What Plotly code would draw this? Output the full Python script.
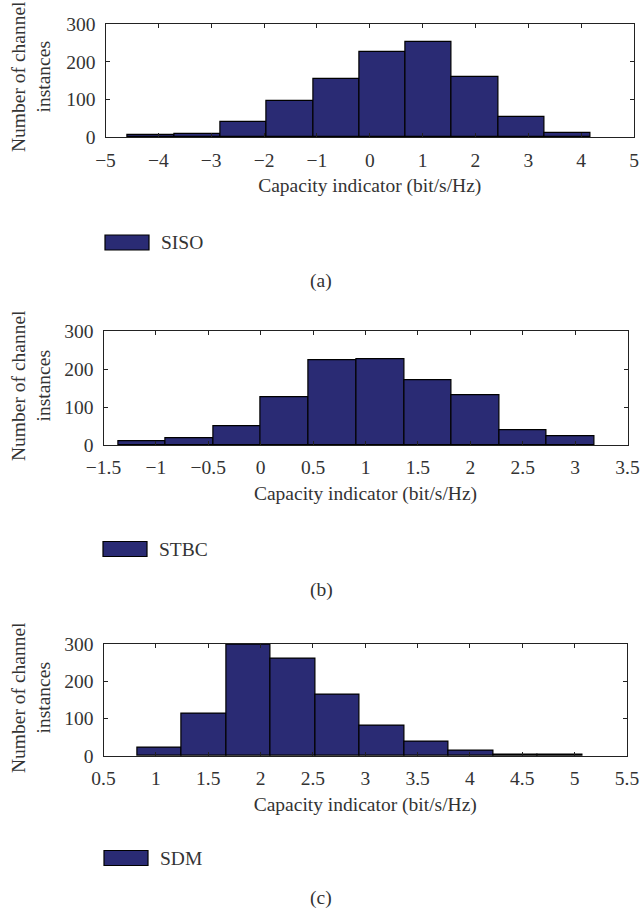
import plotly.graph_objects as go

# ---------------- data ----------------
siso_centers = [-4.137, -3.262, -2.386, -1.511, -0.636, 0.240, 1.115, 1.990, 2.866, 3.741]
siso_counts = [5, 8, 40, 97, 154, 227, 253, 160, 54, 11]
siso_width = 0.875

stbc_centers = [-1.134, -0.679, -0.224, 0.230, 0.685, 1.140, 1.595, 2.050, 2.504, 2.959]
stbc_counts = [9, 17, 50, 127, 223, 226, 170, 130, 39, 22]
stbc_width = 0.455

sdm_centers = [1.033, 1.458, 1.883, 2.308, 2.733, 3.158, 3.583, 4.008, 4.433, 4.858]
sdm_counts = [22, 113, 298, 260, 165, 82, 38, 15, 4, 4]
sdm_width = 0.425

x_ranges = [[-5, 5], [-1.5, 3.5], [0.5, 5.5]]
x_dticks = [1, 0.5, 0.5]
names = ["SISO", "STBC", "SDM"]
panel_labels = ["(a)", "(b)", "(c)"]
y_ticks = [0, 100, 200, 300]
x_title = "Capacity indicator (bit/s/Hz)"
y_title = "Number of channel<br>instances"

# ---------------- layout geometry ----------------
W, H = 641, 913
FONT = "Liberation Serif, Times New Roman, serif"
TXT = "#333333"
FS = 19.5
BAR_COLOR = "#2a2b74"

def py(pix):
    return 1 - pix / H

def px(pix):
    return pix / W

x_domains = [[px(105.5), px(634)], [px(103.5), px(627.5)], [px(103.5), px(627)]]
y_domains = [[py(137.3), py(24)], [py(445), py(331.3)], [py(756), py(643.7)]]
ytitle_y = [77, 386, 698]
legend_y = [242.5, 549, 858]
legend_x = [105, 103, 104]
label_y = [281, 590, 898]

fig = go.Figure()
data = [(siso_centers, siso_counts, siso_width),
        (stbc_centers, stbc_counts, stbc_width),
        (sdm_centers, sdm_counts, sdm_width)]

for i, (cx, cy, w) in enumerate(data):
    sfx = "" if i == 0 else str(i + 1)
    fig.add_trace(go.Bar(
        x=cx, y=cy, width=w, name=names[i],
        marker=dict(color=BAR_COLOR, line=dict(color="black", width=1.2)),
        xaxis="x" + sfx, yaxis="y" + sfx, showlegend=False,
    ))
    axis_common = dict(
        showgrid=False, zeroline=False, showline=True, linecolor="#222",
        linewidth=1, mirror="allticks", ticks="inside", ticklen=4,
        tickcolor="#222", tickfont=dict(family=FONT, size=FS, color=TXT),
        automargin=False, ticklabeloverflow="allow",
    )
    fig.layout["xaxis" + sfx] = dict(
        domain=x_domains[i], range=x_ranges[i], dtick=x_dticks[i], tick0=0,
        anchor="y" + sfx, ticklabelstandoff=5,
        title=dict(text=x_title, font=dict(family=FONT, size=FS, color=TXT), standoff=8),
        **axis_common,
    )
    fig.layout["yaxis" + sfx] = dict(
        domain=y_domains[i], range=[0, 300], tickvals=y_ticks,
        anchor="x" + sfx, ticklabelstandoff=5,
        **axis_common,
    )
    # y-axis title (two lines, rotated)
    fig.add_annotation(
        text=y_title, x=px(31), y=py(ytitle_y[i]), xref="paper", yref="paper",
        textangle=-90, showarrow=False, xanchor="center", yanchor="middle",
        font=dict(family=FONT, size=FS, color=TXT),
    )
    # legend swatch + label
    fig.add_shape(
        type="rect", xref="paper", yref="paper",
        x0=px(legend_x[i]), x1=px(legend_x[i] + 44),
        y0=py(legend_y[i] + 7.5), y1=py(legend_y[i] - 7.5),
        fillcolor=BAR_COLOR, line=dict(color="black", width=1.2),
    )
    fig.add_annotation(
        text=names[i], x=px(legend_x[i] + 54), y=py(legend_y[i]), xref="paper", yref="paper",
        showarrow=False, xanchor="left", yanchor="middle",
        font=dict(family=FONT, size=FS, color=TXT),
    )
    fig.add_annotation(
        text=panel_labels[i], x=px(321), y=py(label_y[i]), xref="paper", yref="paper",
        showarrow=False, font=dict(family=FONT, size=FS, color=TXT),
        xanchor="center", yanchor="middle",
    )

fig.update_layout(
    width=W, height=H, margin=dict(l=0, r=0, t=0, b=0, autoexpand=False),
    paper_bgcolor="white", plot_bgcolor="white", bargap=0,
)

fig.write_html("out.html", post_script="document.body.style.margin='0';")
